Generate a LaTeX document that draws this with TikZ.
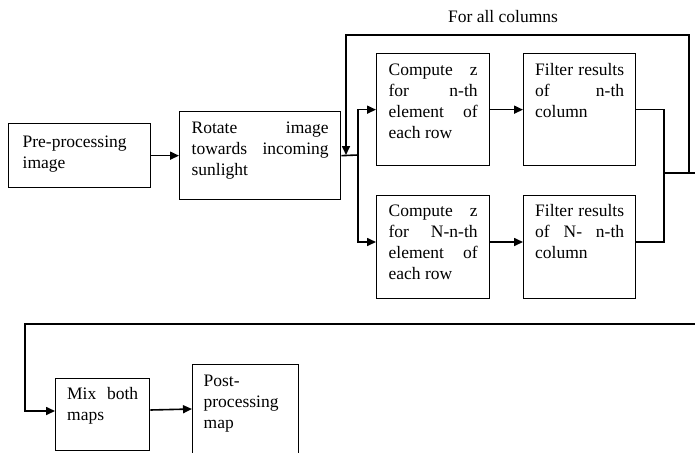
\documentclass[tikz,border=0pt]{standalone}
\usepackage{fontspec}
\setmainfont{Liberation Serif}
\usetikzlibrary{arrows.meta}
\hyphenpenalty=10000
\exhyphenpenalty=10000
\tolerance=10000
\hbadness=10000
\begin{document}
\begin{tikzpicture}[x=1pt,y=-1pt,
  box/.style={draw, line width=1.3pt, rectangle, anchor=north west, inner sep=0pt,
    align=justify, font=\fontsize{17.5}{21}\selectfont},
  conn/.style={line width=1.6pt},
  arr/.style={conn, -{Triangle[length=9pt,width=8pt]}},
  lbl/.style={font=\fontsize{17.5}{21}\selectfont, inner sep=0pt}
]
\path[use as bounding box, clip] (0,0) rectangle (695,452);

\node[box, minimum width=142pt, text width=114pt, text height=24pt, text depth=40pt] (pre) at (8,123)
  {Pre-processing\\image};
\node[box, minimum width=161pt, text width=137pt, text height=22pt, text depth=66pt] (rot) at (179,111)
  {Rotate image\linebreak towards incoming\linebreak sunlight};
\node[box, minimum width=113pt, text width=89pt, text height=22pt, text depth=90pt] (cz1) at (376,53)
  {Compute z\linebreak for n-th\linebreak element of\linebreak each row};
\node[box, minimum width=112pt, text width=89pt, text height=22pt, text depth=90pt] (f1) at (523,53)
  {Filter results\linebreak of n-th\linebreak column};
\node[box, minimum width=113pt, text width=89pt, text height=21pt, text depth=82pt] (cz2) at (376,195)
  {Compute z\linebreak for N-n-th\linebreak element of\linebreak each row};
\node[box, minimum width=112pt, text width=89pt, text height=21pt, text depth=82pt] (f2) at (523,195)
  {Filter results\linebreak of N- n-th\linebreak column};
\node[box, minimum width=94pt, text width=71pt, text height=21pt, text depth=51pt] (mix) at (55,378)
  {Mix both\linebreak maps};
\node[box, minimum width=106pt, text width=84pt, text height=22pt, text depth=80pt] (post) at (192,364)
  {Post-\linebreak processing\linebreak map};

\node[lbl, anchor=base] (lab) at (503,23) {For all columns};

% junctions
\coordinate (j) at (358,155);
\coordinate (m) at (664,173);
\coordinate (outr) at (695,173);
\coordinate (lpa) at (689,173);
\coordinate (lpb) at (689,35);
\coordinate (lpc) at (346,35);
\coordinate (lpd) at (346,155);
\coordinate (ba) at (695,324);
\coordinate (bb) at (25,324);

\draw[arr] (pre.east) -- (rot.west);
\draw[conn] (rot.east) -- (j);
\draw[arr] (j) |- (cz1.west);
\draw[arr] (j) |- ([yshift=-47pt]cz2.north west);
\draw[arr] (cz1.east) -- (f1.west);
\draw[arr] ([yshift=-47pt]cz2.north east) -- ([yshift=-47pt]f2.north west);
\draw[conn] (f1.east) -| (m);
\draw[conn] ([yshift=-47pt]f2.north east) -| (m);
\draw[conn] (m) -- (outr);
\draw[arr] (lpa) -- (lpb) -- (lpc) -- (lpd);
\draw[arr] (ba) -- (bb) |- ([yshift=-33pt]mix.north west);
\draw[arr] ([yshift=-32pt]mix.north east) -- ([yshift=-45pt]post.north west);
\end{tikzpicture}
\end{document}
